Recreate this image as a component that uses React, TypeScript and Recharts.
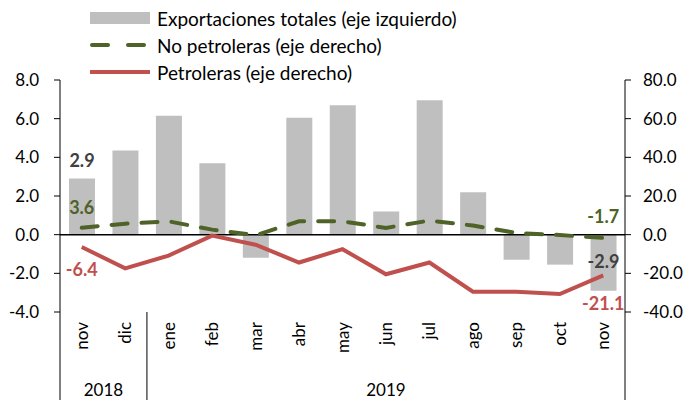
import {
  Bar,
  ComposedChart,
  LabelList,
  Line,
  ReferenceLine,
  XAxis,
  YAxis,
} from "recharts";

const meses = ["nov", "dic", "ene", "feb", "mar", "abr", "may", "jun", "jul", "ago", "sep", "oct", "nov"];
const anios = ["2018", "2018", "2019", "2019", "2019", "2019", "2019", "2019", "2019", "2019", "2019", "2019", "2019"];
const totales = [2.9, 4.35, 6.15, 3.7, -1.2, 6.05, 6.7, 1.2, 6.95, 2.2, -1.3, -1.55, -2.9];
const noPetroleras = [3.6, 5.7, 6.9, 2.6, -0.3, 6.9, 6.9, 3.5, 7.3, 4.7, 0.9, -0.2, -1.7];
const petroleras = [-6.4, -17.4, -10.8, -0.5, -5.2, -14.4, -7.5, -20.5, -14.4, -29.5, -29.5, -30.7, -21.1];

const ticksIzq = [-4, -2, 0, 2, 4, 6, 8];
const ticksDer = [-40, -20, 0, 20, 40, 60, 80];

const data = meses.map((mes, i) => ({
  clave: `${mes}-${anios[i]}`,
  mes,
  anio: anios[i],
  totales: totales[i],
  noPetroleras: noPetroleras[i],
  petroleras: petroleras[i],
}));

const FONT = "Lato, Carlito, Calibri, sans-serif";
const GRIS = "#BFBFBF";
const VERDE = "#4F6228";
const ROJO = "#C0504D";
const ULTIMO = meses.length - 1;

const MesTick = (props: any) => {
  const { x, y, payload, index } = props;
  const half = payload?.offset ?? 21.7;
  const top = y - 8;
  const d = data[index];
  return (
    <g>
      <text
        x={0}
        y={0}
        transform={`translate(${x + 6},${top + 10}) rotate(-90)`}
        textAnchor="end"
        fontSize={17}
        fontFamily={FONT}
        fill="#000"
      >
        {d ? d.mes : payload.value}
      </text>
      {index === 0 && (
        <>
          <line x1={x - half} x2={x - half} y1={top} y2={400} stroke="#000" />
          <text x={x + half} y={top + 84} textAnchor="middle" fontSize={17} fontFamily={FONT} fill="#000">
            2018
          </text>
        </>
      )}
      {index === 2 && <line x1={x - half} x2={x - half} y1={top} y2={400} stroke="#000" />}
      {index === 7 && (
        <text x={x} y={top + 84} textAnchor="middle" fontSize={17} fontFamily={FONT} fill="#000">
          2019
        </text>
      )}
      {index === ULTIMO && <line x1={x + half} x2={x + half} y1={top} y2={400} stroke="#000" />}
    </g>
  );
};

const etiqueta = (color: string, dyFirst: number, dyLast: number, isBar = false) => (props: any) => {
  const { x, y, width, height, value, index } = props;
  if (index !== 0 && index !== ULTIMO) return null;
  let cx = x;
  let cy = y;
  if (isBar) {
    cx = x + width / 2;
    const arriba = Math.min(y, y + height);
    cy = index === 0 ? arriba + dyFirst : arriba + dyLast;
  } else {
    cy = index === 0 ? y + dyFirst : y + dyLast;
  }
  return (
    <text
      x={cx}
      y={cy}
      textAnchor="middle"
      dominantBaseline="central"
      fontSize={18}
      fontWeight="bold"
      fontFamily={FONT}
      fill={color}
    >
      {Number(value).toFixed(1)}
    </text>
  );
};

const Leyenda = () => (
  <svg
    width={686}
    height={92}
    style={{ position: "absolute", top: 0, left: 0, overflow: "visible", pointerEvents: "none" }}
  >
    <rect x={90} y={12} width={60} height={12} fill={GRIS} />
    <text x={157} y={18} dominantBaseline="central" fontSize={19} fontFamily={FONT} fill="#000">
      Exportaciones totales (eje izquierdo)
    </text>
    <line x1={92} x2={148} y1={45} y2={45} stroke={VERDE} strokeWidth={4} strokeDasharray="16 20" strokeLinecap="round" />
    <text x={157} y={45} dominantBaseline="central" fontSize={19} fontFamily={FONT} fill="#000">
      No petroleras (eje derecho)
    </text>
    <line x1={90} x2={150} y1={72} y2={72} stroke={ROJO} strokeWidth={4} />
    <text x={157} y={72} dominantBaseline="central" fontSize={19} fontFamily={FONT} fill="#000">
      Petroleras (eje derecho)
    </text>
  </svg>
);

export default function App() {
  return (
    <div style={{ position: "relative", width: 686, height: 400, background: "#fff" }}>
      <style>{`body{margin:0}`}</style>
      <ComposedChart
        width={686}
        height={400}
        data={data}
        margin={{ top: 80, right: 0, bottom: 0, left: 0 }}
      >
        <XAxis
          dataKey="clave"
          height={88}
          axisLine={false}
          tickLine={false}
          interval={0}
          tick={<MesTick />}
        />
        <YAxis
          yAxisId="izq"
          domain={[-4, 8]}
          ticks={ticksIzq}
          tickFormatter={(v: number) => v.toFixed(1)}
          width={60}
          axisLine={{ stroke: "#000" }}
          tickLine={{ stroke: "#000" }}
          tickSize={6}
          tickMargin={15}
          tick={{ fill: "#000", fontSize: 17, fontFamily: FONT }}
        />
        <YAxis
          yAxisId="der"
          orientation="right"
          domain={[-40, 80]}
          ticks={ticksDer}
          tickFormatter={(v: number) => v.toFixed(1)}
          width={61}
          axisLine={{ stroke: "#000" }}
          tickLine={{ stroke: "#000" }}
          tickSize={6}
          tickMargin={12}
          tick={{ fill: "#000", fontSize: 17, fontFamily: FONT, textAnchor: "start" }}
        />
        <Bar yAxisId="izq" dataKey="totales" fill={GRIS} barSize={26} isAnimationActive={false}>
          <LabelList dataKey="totales" content={etiqueta("#404040", -19, 26, true)} />
        </Bar>
        <ReferenceLine yAxisId="izq" y={0} stroke="#000" strokeWidth={1.5} />
        <Line
          yAxisId="der"
          type="linear"
          dataKey="noPetroleras"
          stroke={VERDE}
          strokeWidth={4}
          strokeDasharray="16 14"
          strokeLinecap="round"
          dot={false}
          isAnimationActive={false}
        >
          <LabelList dataKey="noPetroleras" content={etiqueta(VERDE, -21, -22)} />
        </Line>
        <Line
          yAxisId="der"
          type="linear"
          dataKey="petroleras"
          stroke={ROJO}
          strokeWidth={4}
          dot={false}
          isAnimationActive={false}
        >
          <LabelList dataKey="petroleras" content={etiqueta(ROJO, 22, 28)} />
        </Line>
      </ComposedChart>
      <Leyenda />
    </div>
  );
}
